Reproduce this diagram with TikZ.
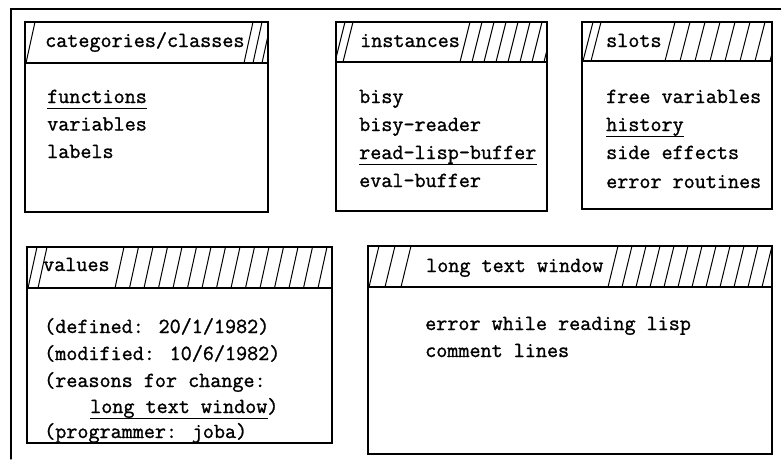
\documentclass[tikz,border=0pt]{standalone}
\usepackage{fontspec}
\newfontfamily\twfont{Latin Modern Mono}[FakeBold=1.2]
\begin{document}
\begin{tikzpicture}[x=1pt,y=-1pt,
  txt/.style={anchor=base west, inner sep=0pt, font=\twfont\fontsize{21.5}{24}\selectfont},
  boxline/.style={line width=1.3pt, line cap=round},
  hatch/.style={line width=1pt},
  uline/.style={line width=1pt}]
\useasboundingbox (0,0) rectangle (781,459);
% outer frame
\coordinate (oc) at (11,9);
\coordinate (or) at (781,9);
\coordinate (ob) at (11,459);
\draw[boxline] (ob) -- (oc) -- (or);

% ---------- box 1: categories/classes
\draw[boxline] (25,22) rectangle (268,212);
\draw[boxline] (25,63) -- (268,63);
\begin{scope}
\clip (25,22) rectangle (268,63);
\foreach \x in {26,244,253,262} \draw[hatch] (\x,63) -- ++(9,-41);
\end{scope}
\node[txt] (t1) at (45,47) {categories/classes};
\node[txt] (a1) at (47,103) {functions};
\node[txt] (a2) at (47,130.5) {variables};
\node[txt] (a3) at (47,158) {labels};
\draw[uline] ([yshift=-5pt]a1.base west) -- ([yshift=-5pt]a1.base east);

% ---------- box 2: instances
\draw[boxline] (336,22) rectangle (547,211);
\draw[boxline] (336,62) -- (547,62);
\begin{scope}
\clip (336,22) rectangle (547,62);
\foreach \x in {335,343,460,472,484,496,508,520,532,544} \draw[hatch] (\x,62) -- ++(10,-40);
\end{scope}
\node[txt] (t2) at (360,47) {instances};
\node[txt] (b1) at (359,103) {bisy};
\node[txt] (b2) at (359,131) {bisy-reader};
\node[txt] (b3) at (359,159) {read-lisp-buffer};
\node[txt] (b4) at (359,187) {eval-buffer};
\draw[uline] ([yshift=-5pt]b3.base west) -- ([yshift=-5pt]b3.base east);

% ---------- box 3: slots
\draw[boxline] (582,22) rectangle (772,209);
\draw[boxline] (582,61) -- (772,61);
\begin{scope}
\clip (582,22) rectangle (772,61);
\foreach \x in {583,591,665,680,695,710,725,740,755,770} \draw[hatch] (\x,61) -- ++(10,-39);
\end{scope}
\node[txt] (t3) at (606,47) {slots};
\node[txt] (c1) at (606,103) {free variables};
\node[txt] (c2) at (606,131) {history};
\node[txt] (c3) at (606,159) {side effects};
\node[txt] (c4) at (606,188) {error routines};
\draw[uline] ([yshift=-5pt]c2.base west) -- ([yshift=-5pt]c2.base east);

% ---------- box 4: values
\draw[boxline] (27,247) rectangle (332,443);
\draw[boxline] (27,288) -- (332,288);
\begin{scope}
\clip (27,247) rectangle (332,288);
\foreach \x in {28,38,115,129.5,144,158.5,173,187.5,202,216.5,231,245.5,260,274.5,289,303.5,318,332.5} \draw[hatch] (\x,288) -- ++(9,-41);
\end{scope}
\node[txt] (t4) at (43,271) {values};
\node[txt] (d1) at (44,333) {(defined: 20/1/1982)};
\node[txt] (d2) at (44,360) {(modified: 10/6/1982)};
\node[txt] (d3) at (44,387) {(reasons for change:};
\node[txt] (d4) at (90,413) {long text window)};
\node[txt] (d5) at (44,438) {(programmer: joba)};
\draw[uline] ([yshift=-5pt]d4.base west) -- ([yshift=-5pt,xshift=-11pt]d4.base east);

% ---------- box 5: long text window
\draw[boxline] (368,246) rectangle (772,454);
\draw[boxline] (368,287) -- (772,287);
\begin{scope}
\clip (368,246) rectangle (772,287);
\foreach \x in {369,385,401,608,622,636,650,664,678,692,706,720,734,748,762,776} \draw[hatch] (\x,287) -- ++(10,-41);
\end{scope}
\node[txt] (t5) at (426,272) {long text window};
\node[txt] (e1) at (425,330) {error while reading lisp};
\node[txt] (e2) at (425,357) {comment lines};
\end{tikzpicture}
\end{document}
